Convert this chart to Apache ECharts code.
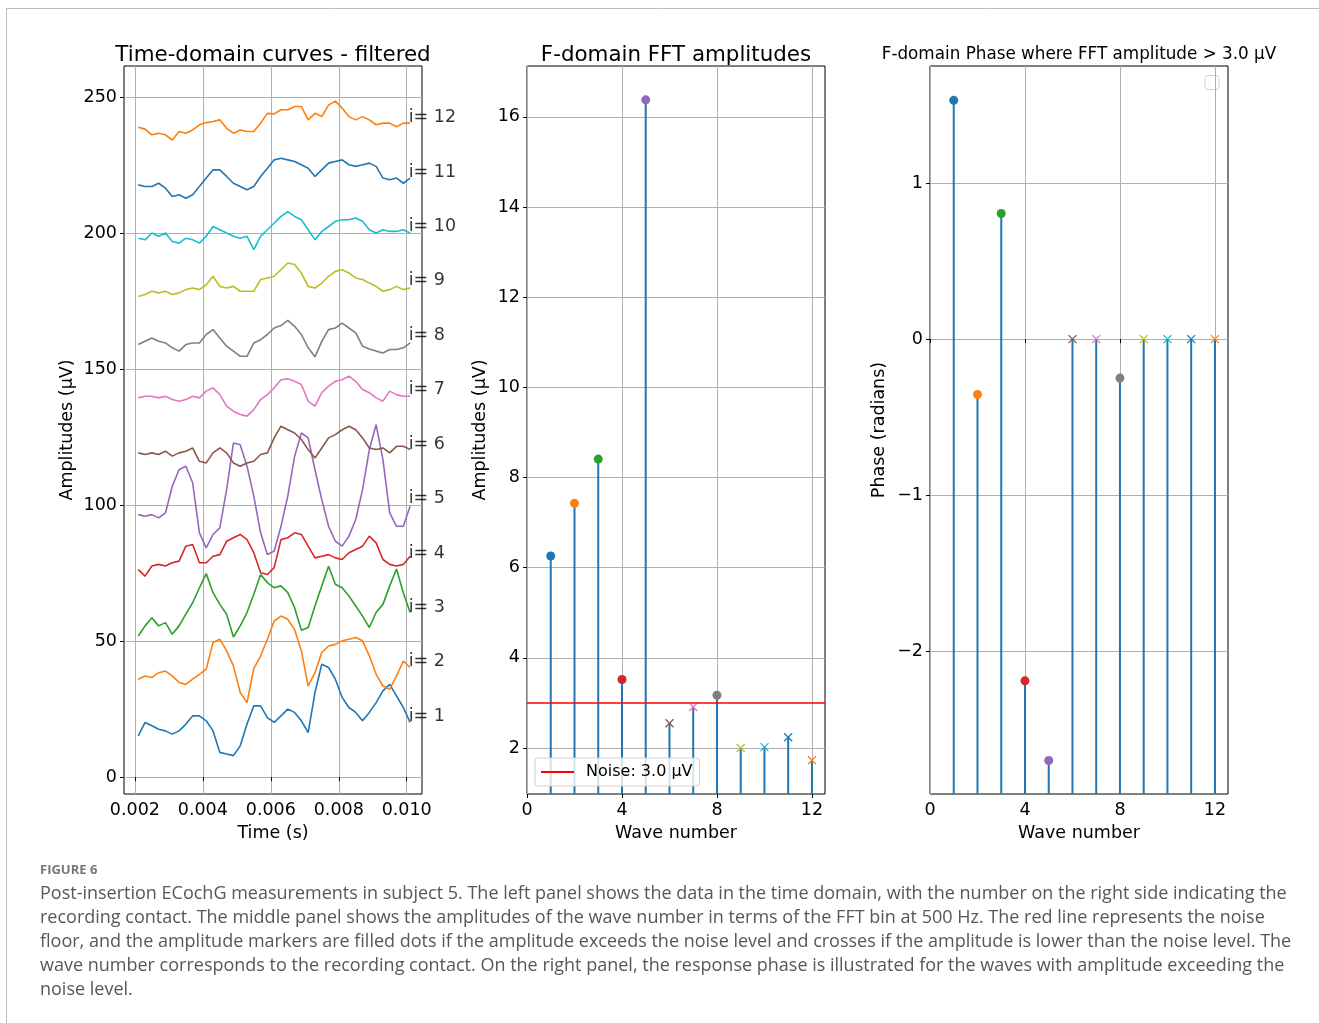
<!DOCTYPE html>
<html>
<head>
<meta charset="utf-8">
<title>Post-insertion ECochG measurements, subject 5</title>
<script src="https://cdn.jsdelivr.net/npm/echarts@6/dist/echarts.min.js"></script>
<style>
    html, body { margin: 0; padding: 0; background: #fff; }
    #chart { width: 1319px; height: 1023px; }
</style>
</head>
<body>
<div id="chart"></div>
<script>
// sample times of the filtered curves (s), one every 0.2 ms
const t0 = 0.0021, dt = 0.0002
const time = Array.from({ length: 41 }, (_, k) => +(t0 + k * dt).toFixed(5))

// time-domain curves, µV (already offset by contact)
const curve1 = [15.2, 20.1, 18.9, 17.6, 17.0, 15.8, 17.0, 19.5, 22.5, 22.5, 20.7, 17.0, 9.1, 8.5, 7.9, 11.5, 19.5, 26.2, 26.2, 21.9, 20.1, 22.5, 25.0, 23.8, 20.7, 16.4, 31.1, 41.5, 40.3, 36.0, 29.3, 25.6, 23.8, 20.7, 23.8, 27.4, 31.7, 34.1, 29.9, 25.6, 20.1]
const curve2 = [36.0, 37.2, 36.6, 38.4, 39.0, 37.2, 34.8, 34.1, 36.0, 37.8, 39.7, 49.5, 50.7, 46.4, 40.9, 31.1, 27.4, 40.0, 44.5, 50.7, 57.4, 59.2, 58.0, 54.3, 46.4, 33.5, 38.4, 45.8, 48.2, 48.8, 50.1, 50.7, 51.3, 50.1, 44.6, 37.8, 33.5, 32.3, 37.2, 42.7, 40.3]
const curve3 = [51.9, 55.6, 58.6, 55.6, 56.8, 52.5, 55.6, 59.9, 64.1, 69.6, 74.8, 67.8, 63.5, 59.9, 51.5, 55.6, 60.5, 67.2, 74.5, 71.5, 69.6, 70.3, 67.8, 62.3, 54.0, 55.0, 62.9, 70.3, 77.5, 70.9, 69.6, 66.6, 62.9, 59.2, 55.0, 60.5, 63.5, 70.3, 76.5, 67.8, 60.5]
const curve4 = [76.3, 73.9, 77.6, 78.2, 77.6, 78.8, 79.4, 84.9, 85.5, 78.8, 78.8, 81.2, 81.8, 86.7, 88.0, 89.2, 87.3, 82.5, 75.1, 74.5, 77.0, 87.3, 88.0, 89.8, 89.2, 84.9, 80.6, 81.2, 81.8, 80.6, 80.0, 82.5, 83.7, 84.9, 88.6, 86.1, 80.0, 78.2, 77.6, 78.2, 81.2]
const curve5 = [96.5, 95.9, 96.5, 95.3, 97.1, 106.9, 113.0, 114.3, 108.2, 89.8, 84.3, 89.2, 91.6, 105.7, 122.8, 122.2, 114.3, 103.3, 89.8, 81.8, 83.1, 92.2, 103.3, 117.9, 126.5, 124.7, 113.0, 102.0, 92.2, 86.7, 84.9, 88.6, 94.7, 105.7, 120.4, 129.6, 116.7, 97.1, 92.2, 92.2, 99.6]
const curve6 = [119.2, 118.6, 119.2, 118.6, 119.8, 118.0, 119.2, 119.8, 121.0, 116.1, 115.5, 119.2, 121.0, 119.2, 115.5, 114.3, 115.5, 116.1, 118.6, 119.2, 124.7, 129.0, 127.7, 126.5, 124.1, 120.4, 117.3, 121.0, 124.7, 125.9, 127.7, 129.0, 127.7, 124.7, 121.0, 120.4, 121.0, 119.2, 121.6, 121.6, 120.4]
const curve7 = [139.4, 140.0, 140.0, 139.4, 140.0, 138.8, 138.2, 138.8, 140.0, 139.4, 141.9, 143.1, 140.6, 136.4, 134.5, 133.3, 132.7, 135.1, 138.8, 140.6, 143.1, 146.1, 146.4, 145.5, 144.3, 138.2, 136.4, 141.3, 143.7, 145.5, 146.1, 147.4, 145.5, 142.5, 141.3, 139.4, 138.2, 141.9, 140.6, 140.0, 140.0]
const curve8 = [159.0, 160.2, 161.4, 160.2, 159.6, 157.8, 156.6, 159.0, 159.6, 159.6, 162.7, 164.5, 161.4, 158.4, 156.6, 154.7, 154.7, 159.6, 160.8, 162.7, 165.1, 166.0, 167.9, 165.7, 162.7, 157.8, 154.5, 160.2, 164.5, 165.1, 166.9, 165.1, 163.3, 158.4, 157.4, 156.6, 155.9, 157.2, 157.2, 157.8, 159.6]
const curve9 = [176.7, 177.4, 178.6, 178.0, 178.6, 177.4, 178.0, 179.2, 179.8, 179.2, 181.0, 184.1, 180.4, 179.8, 180.4, 178.6, 178.6, 178.6, 182.9, 183.5, 184.1, 186.5, 189.0, 188.4, 185.3, 180.4, 179.8, 181.6, 184.1, 185.9, 186.5, 185.3, 183.5, 182.9, 181.6, 180.4, 178.6, 179.2, 180.4, 179.2, 179.8]
const curve10 = [198.1, 197.5, 200.0, 198.8, 200.0, 196.9, 196.3, 198.1, 197.5, 196.3, 198.8, 202.4, 201.2, 200.0, 198.8, 198.1, 198.8, 193.9, 198.8, 201.2, 203.7, 206.1, 207.9, 206.1, 204.9, 201.2, 197.5, 200.6, 202.4, 204.3, 204.9, 204.9, 205.5, 204.3, 201.2, 200.0, 201.2, 200.6, 200.6, 201.2, 200.0]
const curve11 = [217.7, 217.1, 217.1, 218.3, 216.5, 213.4, 214.1, 212.8, 214.1, 217.1, 220.2, 223.2, 223.2, 220.8, 218.3, 217.1, 215.9, 217.1, 220.8, 223.8, 226.9, 227.5, 226.9, 226.3, 225.1, 223.8, 220.8, 223.2, 225.7, 226.3, 226.9, 225.1, 224.5, 225.1, 225.7, 224.5, 220.2, 219.6, 220.2, 218.3, 220.2]
const curve12 = [238.9, 238.2, 236.1, 236.7, 236.1, 234.2, 237.3, 236.7, 237.9, 239.8, 240.6, 241.0, 241.6, 238.5, 236.7, 237.9, 237.3, 237.3, 240.4, 244.0, 243.8, 245.3, 245.3, 246.5, 246.5, 241.6, 244.0, 242.8, 247.0, 248.5, 245.9, 242.8, 241.6, 242.8, 241.6, 239.8, 240.4, 240.4, 239.1, 240.4, 240.4]
const curves = [curve1, curve2, curve3, curve4, curve5, curve6, curve7, curve8, curve9, curve10, curve11, curve12]

// where the "i= n" labels sit (µV)
const labelLevel = [22.4, 42.4, 62.4, 82.4, 102.4, 122.4, 142.4, 162.4, 182.4, 202.4, 222.4, 242.4]
const labelTime = 0.0100

// FFT per wave number
const waves = [1, 2, 3, 4, 5, 6, 7, 8, 9, 10, 11, 12]
const amplitude = [6.26, 7.43, 8.41, 3.52, 16.38, 2.55, 2.91, 3.17, 2.0, 2.02, 2.24, 1.73]
const phase = [1.53, -0.355, 0.805, -2.19, -2.70, 0, 0, -0.25, 0, 0, 0, 0]
const noiseLevel = 3.0

// tick labels
const timeTicks = [0.002, 0.004, 0.006, 0.008, 0.010]
const ampTicks = [0, 50, 100, 150, 200, 250]
const waveTicks = [0, 4, 8, 12]
const fftTicks = [2, 4, 6, 8, 10, 12, 14, 16]
const phaseTicks = [-2, -1, 0, 1]

const tab10 = ['#1f77b4', '#ff7f0e', '#2ca02c', '#d62728', '#9467bd', '#8c564b', '#e377c2', '#7f7f7f', '#bcbd22', '#17becf']
const font = 'DejaVu Sans'
const aboveNoise = amplitude.map(a => a > noiseLevel)

const chart = echarts.init(document.getElementById('chart'))

function axis(extra, ticks, fmt) {
    return Object.assign({
        type: 'value',
        axisLine: { show: false },
        axisTick: { show: true, customValues: ticks, length: 4, inside: false, lineStyle: { color: '#000', width: 1 } },
        axisLabel: { show: true, customValues: ticks, color: '#000', fontSize: 17.5, fontFamily: font, margin: 7, formatter: fmt },
        splitLine: { show: true, lineStyle: { color: '#b0b0b0', width: 1 } },
        nameTextStyle: { color: '#000', fontSize: 17.5, fontFamily: font },
        nameLocation: 'middle'
    }, extra)
}

// stem + marker, filled dot above the noise floor, cross below
function stemItem(params, api) {
    const i = params.dataIndex
    const p = api.coord([api.value(0), api.value(1)])
    const base = params.coordSys.y + params.coordSys.height
    const col = tab10[i % 10]
    const kids = [{ type: 'line', shape: { x1: p[0], y1: base, x2: p[0], y2: p[1] }, style: { stroke: '#1f77b4', lineWidth: 2 } }]
    if (aboveNoise[i]) {
        kids.push({ type: 'circle', shape: { cx: p[0], cy: p[1], r: 4.5 }, style: { fill: col } })
    } else {
        const s = 4
        kids.push({ type: 'line', shape: { x1: p[0] - s, y1: p[1] - s, x2: p[0] + s, y2: p[1] + s }, style: { stroke: col, lineWidth: 1.3 } })
        kids.push({ type: 'line', shape: { x1: p[0] - s, y1: p[1] + s, x2: p[0] + s, y2: p[1] - s }, style: { stroke: col, lineWidth: 1.3 } })
    }
    return { type: 'group', children: kids }
}

const gridStyle = { show: true, borderColor: '#000', borderWidth: 1, backgroundColor: 'transparent', containLabel: false }

const series = curves.map((c, i) => ({
    name: 'i= ' + (i + 1),
    type: 'line',
    xAxisIndex: 0, yAxisIndex: 0,
    data: time.map((t, k) => [t, c[k]]),
    showSymbol: false,
    lineStyle: { color: tab10[i % 10], width: 1.6 },
    itemStyle: { color: tab10[i % 10] },
    animation: false,
    z: 3
}))

series.push({
    type: 'scatter',
    xAxisIndex: 0, yAxisIndex: 0,
    data: labelLevel.map((v, i) => [labelTime, v, i + 1]),
    symbolSize: 0,
    label: {
        show: true, position: 'right', distance: 2,
        formatter: p => 'i= ' + p.value[2],
        color: '#000', fontSize: 17.5, fontFamily: font
    },
    z: 5
})

series.push({
    type: 'custom',
    xAxisIndex: 1, yAxisIndex: 1,
    data: waves.map((w, i) => [w, amplitude[i]]),
    renderItem: stemItem,
    z: 3
})

series.push({
    name: 'Noise: 3.0 µV',
    type: 'line',
    xAxisIndex: 1, yAxisIndex: 1,
    data: [],
    color: '#ff0000',
    itemStyle: { color: '#ff0000' },
    markLine: {
        silent: true, symbol: 'none', animation: false,
        label: { show: false },
        lineStyle: { color: '#ff0000', width: 1.6, type: 'solid' },
        data: [{ yAxis: noiseLevel }]
    },
    z: 4
})

series.push({
    type: 'custom',
    xAxisIndex: 2, yAxisIndex: 2,
    data: waves.map((w, i) => [w, phase[i]]),
    renderItem: stemItem,
    z: 3
})

const captionLines = [
    'Post-insertion ECochG measurements in subject 5. The left panel shows the data in the time domain, with the number on the right side indicating the',
    'recording contact. The middle panel shows the amplitudes of the wave number in terms of the FFT bin at 500 Hz. The red line represents the noise',
    'floor, and the amplitude markers are filled dots if the amplitude exceeds the noise level and crosses if the amplitude is lower than the noise level. The',
    'wave number corresponds to the recording contact. On the right panel, the response phase is illustrated for the waves with amplitude exceeding the',
    'noise level.'
]

const graphics = [
    { type: 'line', shape: { x1: 6, y1: 8.5, x2: 1319, y2: 8.5 }, style: { stroke: '#bdbdbd', lineWidth: 1 } },
    { type: 'line', shape: { x1: 6.5, y1: 8, x2: 6.5, y2: 1023 }, style: { stroke: '#bdbdbd', lineWidth: 1 } },
    { type: 'text', x: 273, y: 55, style: { text: 'Time-domain curves - filtered', fill: '#000', fontSize: 21.4, fontFamily: font, align: 'center', verticalAlign: 'middle' } },
    { type: 'text', x: 676, y: 55, style: { text: 'F-domain FFT amplitudes', fill: '#000', fontSize: 21.4, fontFamily: font, align: 'center', verticalAlign: 'middle' } },
    { type: 'text', x: 1079, y: 55, style: { text: 'F-domain Phase where FFT amplitude > 3.0 µV', fill: '#000', fontSize: 16.8, fontFamily: font, align: 'center', verticalAlign: 'middle' } },
    { type: 'rect', shape: { x: 1205, y: 75.5, width: 14, height: 14, r: 3 }, style: { fill: '#fff', stroke: '#d0d0d0', lineWidth: 1 } },
    { type: 'text', x: 40, y: 870, style: { text: 'FIGURE 6', fill: '#777', fontSize: 13, fontWeight: 'bold', fontFamily: 'Open Sans', verticalAlign: 'middle' } }
]
captionLines.forEach((line, i) => {
    graphics.push({ type: 'text', x: 40, y: 894 + i * 24, style: { text: line, fill: '#575757', fontSize: 18, fontFamily: 'Open Sans', verticalAlign: 'middle' } })
})

chart.setOption({
    animation: false,
    backgroundColor: '#fff',
    textStyle: { fontFamily: font },
    grid: [
        Object.assign({ left: 124, top: 66, width: 298, height: 728 }, gridStyle),
        Object.assign({ left: 527, top: 66, width: 298, height: 728 }, gridStyle),
        Object.assign({ left: 930, top: 66, width: 298, height: 728 }, gridStyle)
    ],
    xAxis: [
        axis({ gridIndex: 0, min: 0.00168, max: 0.01045, name: 'Time (s)', nameGap: 30 }, timeTicks, v => v.toFixed(3)),
        axis({ gridIndex: 1, min: 0, max: 12.55, name: 'Wave number', nameGap: 30 }, waveTicks),
        axis({ gridIndex: 2, min: 0, max: 12.55, name: 'Wave number', nameGap: 30 }, waveTicks)
    ],
    yAxis: [
        axis({ gridIndex: 0, min: -6.2, max: 261.4, name: 'Amplitudes (µV)', nameGap: 48 }, ampTicks),
        axis({ gridIndex: 1, min: 0.98, max: 17.13, name: 'Amplitudes (µV)', nameGap: 38 }, fftTicks),
        axis({ gridIndex: 2, min: -2.915, max: 1.75, name: 'Phase (radians)', nameGap: 42 }, phaseTicks, v => String(v).replace('-', '\u2212'))
    ],
    legend: {
        show: true,
        data: ['Noise: 3.0 µV'],
        left: 535, top: 758,
        orient: 'horizontal',
        icon: 'rect',
        itemWidth: 33, itemHeight: 2,
        padding: [6, 7, 6, 6],
        backgroundColor: 'rgba(255,255,255,0.8)',
        borderColor: '#d0d0d0', borderWidth: 1, borderRadius: 3,
        textStyle: { color: '#000', fontSize: 16, fontFamily: font, padding: [0, 0, 0, 7] },
        selectedMode: false,
        z: 10
    },
    series: series,
    graphic: graphics
})
</script>
</body>
</html>
